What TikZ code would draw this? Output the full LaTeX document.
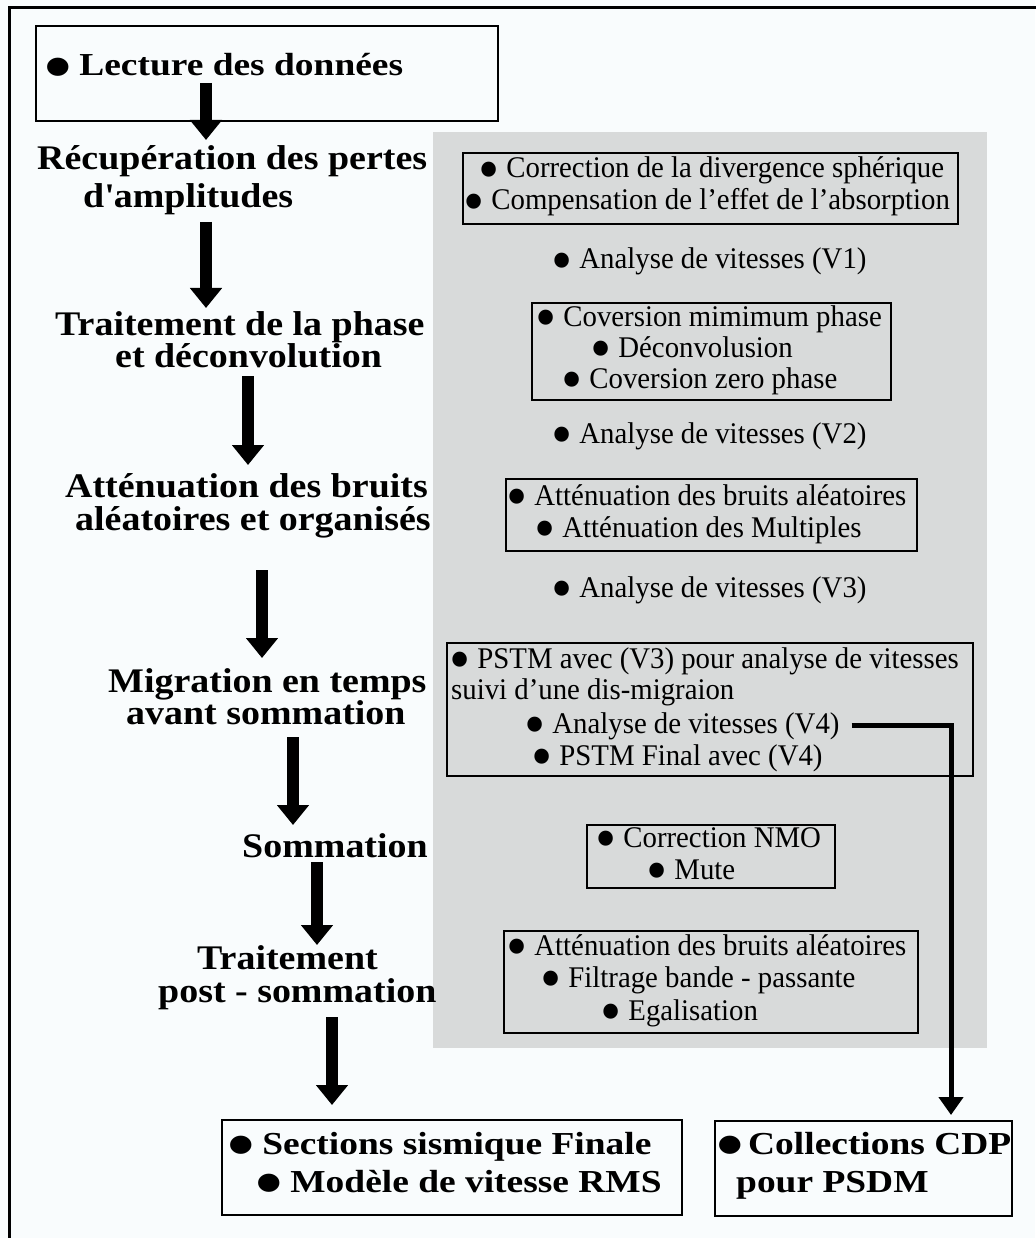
\documentclass[tikz,border=0pt]{standalone}
\usepackage{fontspec}
\setmainfont{Liberation Serif}
\newfontfamily\labfont[FakeStretch=1.10]{Liberation Serif}
\newfontfamily\resfont[FakeStretch=1.17]{Liberation Serif}
\newfontfamily\stepfont[FakeStretch=0.96]{Liberation Serif}
\newcommand{\bul}{\makebox[0.7em][l]{\smash{\raisebox{-0.42em}{\scalebox{2.1}{•}}}}}
\usetikzlibrary{arrows.meta}
\definecolor{panelgray}{RGB}{216,218,218}
\definecolor{pagebg}{RGB}{249,252,253}
\tikzset{
 lab/.style={anchor=base west, inner sep=0pt, font={\labfont\bfseries\fontsize{34.5}{38}\selectfont}},
 res/.style={anchor=base west, inner sep=0pt, font={\resfont\bfseries\fontsize{32}{36}\selectfont}},
 stp/.style={anchor=base west, inner sep=0pt, font={\stepfont\fontsize{30}{34}\selectfont}},
 boxline/.style={draw=black, line width=1.8pt, inner sep=0pt, anchor=north west},
 bigarrow/.style={line width=12pt, -{Triangle[width=31pt,length=20pt]}},
 conn/.style={line width=5pt, -{Triangle[width=24pt,length=18pt]}},
}
\begin{document}
\begin{tikzpicture}[x=1pt,y=-1pt]
\useasboundingbox (0,0) rectangle (1035,1238);
\fill[pagebg] (0,0) rectangle (1035,1238);
\draw[line width=3pt] (9,1300) -- (9,8) -- (1100,8);
% grey panel
\node[fill=panelgray, inner sep=0pt, anchor=north west, minimum width=554pt, minimum height=916pt] (panel) at (433,132) {};
% boxes
\node[boxline, minimum width=462pt, minimum height=95pt] (boxL) at (35,25) {};
\node[boxline, minimum width=495pt, minimum height=71pt] (boxA) at (462,152) {};
\node[boxline, minimum width=359pt, minimum height=97pt] (boxB) at (531,302) {};
\node[boxline, minimum width=411pt, minimum height=72pt] (boxC) at (505,478) {};
\node[boxline, minimum width=526pt, minimum height=133pt] (boxD) at (446,642) {};
\node[boxline, minimum width=248pt, minimum height=63pt] (boxE) at (586,824) {};
\node[boxline, minimum width=414pt, minimum height=102pt] (boxF) at (503,930) {};
\node[boxline, minimum width=460pt, minimum height=95pt] (boxG) at (221,1119) {};
\node[boxline, minimum width=297pt, minimum height=95pt] (boxH) at (714,1120) {};
% left labels
\node[res] (lect) at (44,76) {\bul\hspace{0.4em}Lecture des données};
\node[lab] (recA) at (37,170) {Récupération des pertes};
\node[lab] (recB) at (83,208) {d\textquotesingle amplitudes};
\node[lab] (phaA) at (55,335) {Traitement de la phase};
\node[lab] (phaB) at (115,367) {et déconvolution};
\node[lab] (attA) at (65,497) {Atténuation des bruits};
\node[lab] (attB) at (75,530) {aléatoires et organisés};
\node[lab] (migA) at (108,692) {Migration en temps};
\node[lab] (migB) at (126,724) {avant sommation};
\node[lab] (som) at (242,857) {Sommation};
\node[lab] (posA) at (197,969) {Traitement};
\node[lab] (posB) at (158,1002) {post - sommation};
% right steps
\node[stp] (a1) at (478,178) {\bul\ Correction de la divergence sphérique};
\node[stp] (a2) at (463,210) {\bul\ Compensation de l’effet de l’absorption};
\node[stp] (v1) at (551,269) {\bul\ Analyse de vitesses (V1)};
\node[stp] (b1) at (535,326) {\bul\ Coversion mimimum phase};
\node[stp] (b2) at (590,357) {\bul\ Déconvolusion};
\node[stp] (b3) at (561,388) {\bul\ Coversion zero phase};
\node[stp] (v2) at (551,443) {\bul\ Analyse de vitesses (V2)};
\node[stp] (c1) at (506,505) {\bul\ Atténuation des bruits aléatoires};
\node[stp] (c2) at (534,537) {\bul\ Atténuation des Multiples};
\node[stp] (v3) at (551,597) {\bul\ Analyse de vitesses (V3)};
\node[stp] (d1) at (449,668) {\bul\ PSTM avec (V3) pour analyse de vitesses};
\node[stp] (d2) at (451,699) {suivi d’une dis-migraion};
\node[stp] (v4) at (524,733) {\bul\ Analyse de vitesses (V4)};
\node[stp] (d4) at (531,765) {\bul\ PSTM Final avec (V4)};
\node[stp] (e1) at (595,847) {\bul\ Correction NMO};
\node[stp] (e2) at (646,879) {\bul\ Mute};
\node[stp] (f1) at (506,955) {\bul\ Atténuation des bruits aléatoires};
\node[stp] (f2) at (540,987) {\bul\ Filtrage bande - passante};
\node[stp] (f3) at (600,1020) {\bul\ Egalisation};
% bottom results
\node[res] (g1) at (227,1154) {\bul\hspace{0.4em}Sections sismique Finale};
\node[res] (g2) at (255,1192) {\bul\hspace{0.4em}Modèle de vitesse RMS};
\node[res] (h1) at (716,1154) {\bul\hspace{0.3em}Collections CDP};
\node[res] (h2) at (736,1192) {pour PSDM};
% arrow ends
\coordinate (s1) at (206,83);   \coordinate (t1) at (206,140);
\coordinate (s2) at (206,222);  \coordinate (t2) at (206,308);
\coordinate (s3) at (248,376);  \coordinate (t3) at (248,465);
\coordinate (s4) at (262,570);  \coordinate (t4) at (262,658);
\coordinate (s5) at (293,737);  \coordinate (t5) at (293,825);
\coordinate (s6) at (317,862);  \coordinate (t6) at (317,945);
\coordinate (s7) at (332,1017); \coordinate (t7) at (332,1105);
\coordinate (hin) at (951,1115);
\draw[bigarrow] (s1) -- (t1);
\draw[bigarrow] (s2) -- (t2);
\draw[bigarrow] (s3) -- (t3);
\draw[bigarrow] (s4) -- (t4);
\draw[bigarrow] (s5) -- (t5);
\draw[bigarrow] (s6) -- (t6);
\draw[bigarrow] (s7) -- (t7);
\draw[conn] ([xshift=12pt]v4.east) -| (hin);
\end{tikzpicture}
\end{document}
